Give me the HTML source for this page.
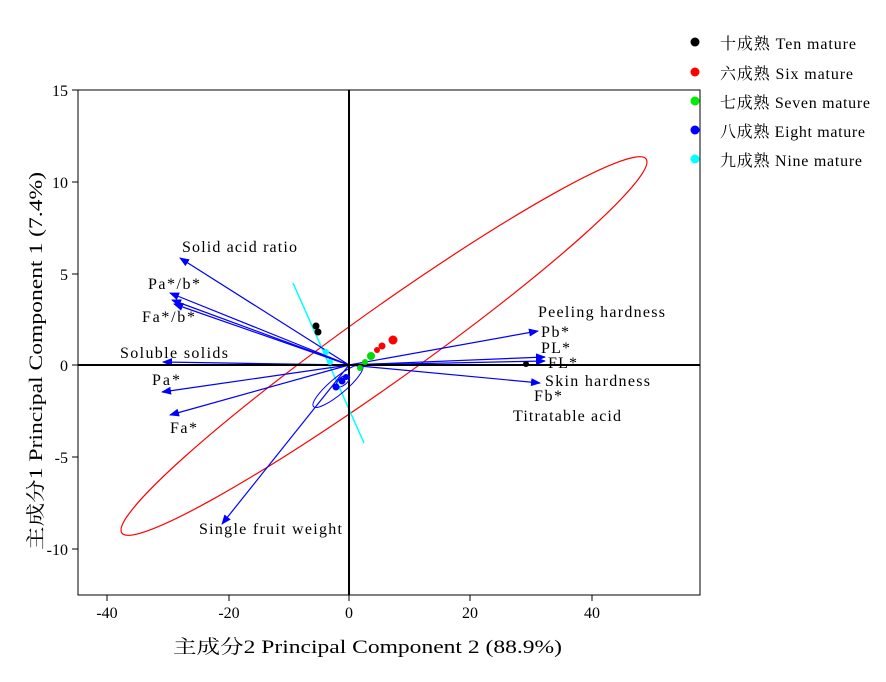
<!DOCTYPE html>
<html><head><meta charset="utf-8"><style>
body{margin:0;background:#fff;width:886px;height:677px;overflow:hidden}
text{font-family:"Liberation Serif","Noto Serif CJK SC",serif;fill:#000}
</style></head><body>
<svg width="886" height="677" viewBox="0 0 886 677" xmlns="http://www.w3.org/2000/svg">
<defs>
<marker id="ah" markerWidth="10" markerHeight="8" refX="9" refY="4" orient="auto" markerUnits="userSpaceOnUse">
<path d="M0,0 L10,4 L0,8 z" fill="#0000ff"/></marker>
</defs>
<rect x="78" y="90" width="622" height="505" fill="none" stroke="#000" stroke-width="1"/>
<g stroke="#000">
<line x1="107" y1="595" x2="107" y2="601"/><line x1="229" y1="595" x2="229" y2="601"/>
<line x1="349" y1="595" x2="349" y2="601"/><line x1="470" y1="595" x2="470" y2="601"/>
<line x1="592" y1="595" x2="592" y2="601"/>
<line x1="72" y1="90" x2="78" y2="90"/><line x1="72" y1="182" x2="78" y2="182"/>
<line x1="72" y1="274" x2="78" y2="274"/><line x1="72" y1="365" x2="78" y2="365"/>
<line x1="72" y1="457" x2="78" y2="457"/><line x1="72" y1="549" x2="78" y2="549"/>
</g>
<g font-size="16" text-anchor="middle">
<text x="107" y="618">-40</text><text x="229" y="618">-20</text><text x="349" y="618">0</text>
<text x="470" y="618">20</text><text x="592" y="618">40</text>
</g>
<g font-size="16" text-anchor="end">
<text x="68" y="96">15</text><text x="68" y="188">10</text><text x="68" y="280">5</text>
<text x="68" y="371">0</text><text x="68" y="463">-5</text><text x="68" y="555">-10</text>
</g>
<text x="173" y="653" font-size="19" textLength="389" lengthAdjust="spacingAndGlyphs">主成分2 Principal Component 2 (88.9%)</text>
<text transform="translate(42,550) rotate(-90)" font-size="19" textLength="378" lengthAdjust="spacingAndGlyphs">主成分1 Principal Component 1 (7.4%)</text>
<ellipse cx="384" cy="346" rx="322" ry="36" transform="rotate(-35.5 384 346)" fill="none" stroke="#ff0000" stroke-width="1.2"/>
<line x1="293" y1="283" x2="364" y2="443" stroke="#00ffff" stroke-width="1.5"/>
<g stroke="#0000ff" stroke-width="1.2" marker-end="url(#ah)">
<line x1="349" y1="365" x2="180" y2="258"/>
<line x1="349" y1="365" x2="170" y2="293"/>
<line x1="349" y1="365" x2="172" y2="300"/>
<line x1="349" y1="365" x2="174" y2="304"/>
<line x1="349" y1="365" x2="163" y2="362"/>
<line x1="349" y1="365" x2="162" y2="392"/>
<line x1="349" y1="365" x2="170" y2="415"/>
<line x1="349" y1="365" x2="222" y2="524"/>
<line x1="349" y1="365" x2="538" y2="331"/>
<line x1="349" y1="365" x2="545" y2="357"/>
<line x1="349" y1="365" x2="545" y2="361"/>
<line x1="349" y1="365" x2="540" y2="383"/>
</g>
<ellipse cx="338" cy="386" rx="32" ry="8" transform="rotate(-40 338 386)" fill="none" stroke="#0000ff" stroke-width="1"/>
<line x1="78" y1="365" x2="700" y2="365" stroke="#000" stroke-width="2"/>
<line x1="349" y1="90" x2="349" y2="595" stroke="#000" stroke-width="2"/>
<g>
<ellipse cx="343" cy="381" rx="8" ry="4" transform="rotate(-40 343 381)" fill="none" stroke="#0000ff"/>
<circle cx="336" cy="387" r="3.5" fill="#0000ff"/><circle cx="342" cy="381" r="3.5" fill="#0000ff"/>
<circle cx="346" cy="377" r="3" fill="#0000ff"/>
<circle cx="326" cy="352" r="3" fill="#00ffff"/><circle cx="330" cy="362" r="3" fill="#00ffff"/>
<circle cx="316" cy="326" r="3.5" fill="#000"/><circle cx="318" cy="332" r="3.5" fill="#000"/>
<circle cx="393" cy="340" r="4.5" fill="#ff0000"/><circle cx="382" cy="346" r="3.5" fill="#ff0000"/>
<circle cx="377" cy="350" r="3" fill="#ff0000"/>
<circle cx="371" cy="356" r="4" fill="#00dd00"/><circle cx="365" cy="362" r="3" fill="#00dd00"/>
<circle cx="360" cy="368" r="3" fill="#00dd00"/>
<circle cx="526" cy="364" r="3" fill="#000"/>
</g>
<g font-size="16" lengthAdjust="spacingAndGlyphs">
<text x="182" y="252" textLength="115">Solid acid ratio</text>
<text x="148" y="289" textLength="52">Pa*/b*</text>
<text x="142" y="322" textLength="53">Fa*/b*</text>
<text x="120" y="358" textLength="108">Soluble solids</text>
<text x="152" y="385" textLength="28">Pa*</text>
<text x="170" y="433" textLength="27">Fa*</text>
<text x="199" y="534" textLength="143">Single fruit weight</text>
<text x="538" y="317" textLength="127">Peeling hardness</text>
<text x="541" y="337" textLength="28">Pb*</text>
<text x="541" y="353" textLength="29">PL*</text>
<text x="548" y="368" textLength="29">FL*</text>
<text x="545" y="386" textLength="105">Skin hardness</text>
<text x="534" y="401" textLength="28">Fb*</text>
<text x="513" y="421" textLength="108">Titratable acid</text>
</g>
<g font-size="16" lengthAdjust="spacingAndGlyphs">
<circle cx="695" cy="42" r="4.5" fill="#000"/><text x="720" y="49" textLength="136">十成熟 Ten mature</text>
<circle cx="695" cy="72" r="4.5" fill="#ff0000"/><text x="720" y="79" textLength="133">六成熟 Six mature</text>
<circle cx="695" cy="101" r="4.5" fill="#00ee00"/><text x="720" y="108" textLength="150">七成熟 Seven mature</text>
<circle cx="695" cy="130" r="4.5" fill="#0000ff"/><text x="720" y="137" textLength="145">八成熟 Eight mature</text>
<circle cx="695" cy="159" r="4.5" fill="#00ffff"/><text x="720" y="166" textLength="142">九成熟 Nine mature</text>
</g>
</svg>
</body></html>
